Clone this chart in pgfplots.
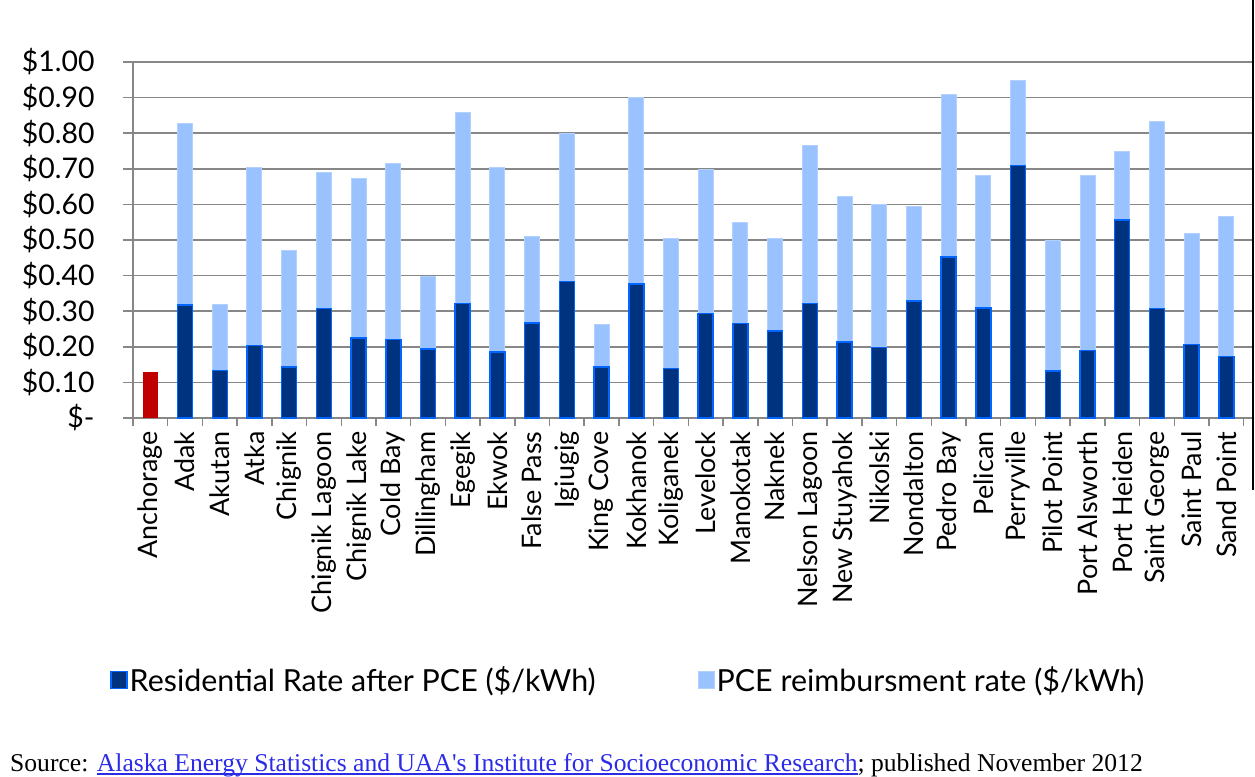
\documentclass[border=0pt]{standalone}
\usepackage{pgfplots}
\usepackage{pgfplotstable}
\pgfplotsset{compat=1.18}
\usepackage{fontspec}
\setmainfont{Lato}
\newfontfamily\srcfont{Liberation Serif}
\definecolor{darkbar}{HTML}{00337F}
\definecolor{darkedge}{HTML}{0066FF}
\definecolor{lightbar}{HTML}{99C2FF}
\definecolor{lightedge}{HTML}{B3D1FF}
\definecolor{redbar}{HTML}{C00000}
\definecolor{gridgray}{HTML}{878787}
\definecolor{linkblue}{HTML}{2B2BE8}
\newcommand{\lblfont}{\fontsize{27}{32}\selectfont}
\newcommand{\yfont}{\fontsize{28.5}{34}\selectfont}
\newcommand{\legfont}{\fontsize{30.5}{36}\selectfont}
\newcommand{\myul}[1]{\setbox0\hbox{#1}\rlap{\rule[-3.5bp]{\wd0}{1.4bp}}\box0}
\pgfplotstableread{
x res pce
1 0.317 0.509
2 0.133 0.186
3 0.204 0.500
4 0.143 0.328
5 0.307 0.383
6 0.225 0.448
7 0.220 0.495
8 0.194 0.204
9 0.322 0.536
10 0.186 0.519
11 0.267 0.244
12 0.383 0.415
13 0.143 0.120
14 0.376 0.523
15 0.139 0.365
16 0.293 0.406
17 0.265 0.283
18 0.244 0.260
19 0.321 0.444
20 0.213 0.409
21 0.198 0.402
22 0.329 0.264
23 0.452 0.458
24 0.309 0.373
25 0.709 0.240
26 0.132 0.368
27 0.189 0.493
28 0.556 0.194
29 0.307 0.527
30 0.206 0.312
31 0.173 0.394
}\ratetable
\begin{document}
\begin{tikzpicture}
\begin{axis}[
  at={(0,0)}, anchor=south west,
  scale only axis,
  width=1119bp, height=356bp,
  ybar, bar shift=0pt,
  bar width=15bp,
  xmin=-0.5, xmax=31.74,
  ymin=0, ymax=1,
  axis lines*=left,
  axis line style={gridgray, line width=1.5bp},
  ymajorgrids,
  grid style={gridgray, line width=1.5bp},
  ytick={0,0.1,0.2,0.3,0.4,0.5,0.6,0.7,0.8,0.9,1.0},
  yticklabels={\$-\hspace{18bp},\$0.10,\$0.20,\$0.30,\$0.40,\$0.50,\$0.60,\$0.70,\$0.80,\$0.90,\$1.00},
  xtick={0,...,31},
  xticklabels={Anchorage,Adak,Akutan,Atka,Chignik,Chignik Lagoon,Chignik Lake,Cold Bay,Dillingham,Egegik,Ekwok,False Pass,Igiugig,King Cove,Kokhanok,Koliganek,Levelock,Manokotak,Naknek,Nelson Lagoon,New Stuyahok,Nikolski,Nondalton,Pedro Bay,Pelican,Perryville,Pilot Point,Port Alsworth,Port Heiden,Saint George,Saint Paul,Sand Point},
  minor xtick={-0.5,0.5,...,31.5},
  tick align=outside,
  major tick length=10bp,
  minor tick length=8bp,
  major x tick style={draw=none},
  minor x tick style={draw=gridgray, line width=1.5bp},
  y tick style={draw=gridgray, line width=1.5bp},
  xticklabel style={font=\lblfont, rotate=90, anchor=east},
  yticklabel style={font=\yfont, anchor=east, xshift=-25bp},
  legend style={at={(-0.0232,-0.736)}, anchor=west, draw=none, fill=none,
    font=\legfont, legend columns=2,
    /tikz/every even column/.append style={column sep=100bp}},
  legend image code/.code={\draw[#1] (0bp,-8.5bp) rectangle (16bp,8.5bp);},
  clip=false,
]
\addplot[ybar, forget plot, fill=redbar, draw=none] coordinates {(0,0.13)};
\addplot[ybar, forget plot, fill=lightbar, draw=lightedge, line width=1bp]
  table[x=x, y expr=\thisrow{res}+\thisrow{pce}] {\ratetable};
\addplot[ybar, forget plot, fill=darkbar, draw=darkedge, line width=1.5bp]
  table[x=x, y=res] {\ratetable};
\addlegendimage{fill=darkbar, draw=darkedge, line width=1.5bp}
\addlegendentry{Residential Rate after PCE (\$/kWh)}
\addlegendimage{fill=lightbar, draw=lightedge, line width=1bp}
\addlegendentry{PCE reimbursment rate (\$/kWh)}
\end{axis}
\draw[black, line width=2bp] (1120bp,418bp) -- (1120bp,-72bp);
\node[anchor=base west, inner sep=0pt, font=\srcfont\fontsize{25.7}{30}\selectfont] at (-123bp,-353bp)
  {Source: \textcolor{linkblue}{\myul{Alaska Energy Statistics and UAA's Institute for Socioeconomic Research}}; published November 2012};
\pgfresetboundingbox
\path[use as bounding box] (-133bp,-359bp) rectangle (1122bp,418bp);
\end{tikzpicture}
\end{document}
